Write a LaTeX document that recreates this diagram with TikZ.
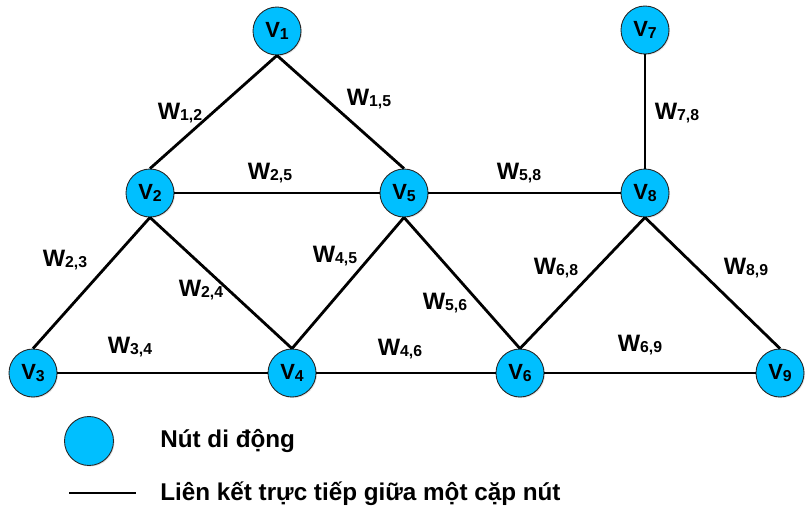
\documentclass[tikz,border=0pt]{standalone}
\usepackage{fontspec}
\setmainfont{Liberation Sans}
\usetikzlibrary{shadows}

\definecolor{nutxanh}{HTML}{00BFFF}

% chu so nho ben duoi nhan
\newcommand{\chiso}[1]{\raisebox{-1pt}{\fontsize{9}{9}\selectfont #1}}

\tikzset{
  nut/.style={circle, draw=black!85, line width=0.5pt, fill=nutxanh,
    minimum size=0.96cm, inner sep=0pt,
    font=\bfseries\fontsize{12.5}{12.5}\selectfont,
    drop shadow={opacity=0.25, shadow xshift=0.6pt, shadow yshift=-0.6pt}},
  lienket/.style={line width=1.6pt, black},
  trongso/.style={font=\bfseries\fontsize{13.5}{13.5}\selectfont, inner sep=0pt},
  chuthich/.style={anchor=west, inner sep=0pt, font=\bfseries\fontsize{13.8}{13.8}\selectfont}
}

\begin{document}
\begin{tikzpicture}[x=0.02cm, y=-0.02cm]
    \useasboundingbox (0,0) rectangle (806,511);

    % cac nut
    \node[nut] (v1) at (277,31) {V\chiso{1}};
    \node[nut] (v7) at (645,30) {V\chiso{7}};
    \node[nut] (v2) at (150,193) {V\chiso{2}};
    \node[nut] (v5) at (404,193) {V\chiso{5}};
    \node[nut] (v8) at (645,193) {V\chiso{8}};
    \node[nut] (v3) at (33,373) {V\chiso{3}};
    \node[nut] (v4) at (292,373) {V\chiso{4}};
    \node[nut] (v6) at (520,373) {V\chiso{6}};
    \node[nut] (v9) at (780,373) {V\chiso{9}};

    % cac lien ket
    \draw[lienket] (v1.south) -- (v2.north);
    \draw[lienket] (v1.south) -- (v5.north);
    \draw[lienket] (v2.east) -- (v5.west);
    \draw[lienket] (v5.east) -- (v8.west);
    \draw[lienket] (v7.south) -- (v8.north);
    \draw[lienket] (v2.south) -- (v3.north);
    \draw[lienket] (v2.south) -- (v4.north);
    \draw[lienket] (v4.north) -- (v5.south);
    \draw[lienket] (v5.south) -- (v6.north);
    \draw[lienket] (v6.north) -- (v8.south);
    \draw[lienket] (v8.south) -- (v9.north);
    \draw[lienket] (v3.east) -- (v4.west);
    \draw[lienket] (v4.east) -- (v6.west);
    \draw[lienket] (v6.east) -- (v9.west);

    % trong so
    \node[trongso] (w12) at (180,113) {W\chiso{1,2}};
    \node[trongso] (w15) at (369,99) {W\chiso{1,5}};
    \node[trongso] (w25) at (270,173) {W\chiso{2,5}};
    \node[trongso] (w58) at (519,173) {W\chiso{5,8}};
    \node[trongso] (w78) at (677,113) {W\chiso{7,8}};
    \node[trongso] (w23) at (65,260) {W\chiso{2,3}};
    \node[trongso] (w24) at (201,290) {W\chiso{2,4}};
    \node[trongso] (w45) at (335,256) {W\chiso{4,5}};
    \node[trongso] (w56) at (445,303) {W\chiso{5,6}};
    \node[trongso] (w68) at (556,268) {W\chiso{6,8}};
    \node[trongso] (w89) at (746,268) {W\chiso{8,9}};
    \node[trongso] (w34) at (130,347) {W\chiso{3,4}};
    \node[trongso] (w46) at (400,349) {W\chiso{4,6}};
    \node[trongso] (w69) at (640,345) {W\chiso{6,9}};

    % chu thich
    \node[nut, minimum size=0.98cm] (mau) at (89,441) {};
    \node[chuthich] (tmau) at (160,441) {Nút di động};
    \coordinate (d1) at (69,493);
    \coordinate (d2) at (136,493);
    \draw[lienket] (d1) -- (d2);
    \node[chuthich] (td) at (160,494) {Liên kết trực tiếp giữa một cặp nút};
\end{tikzpicture}
\end{document}
